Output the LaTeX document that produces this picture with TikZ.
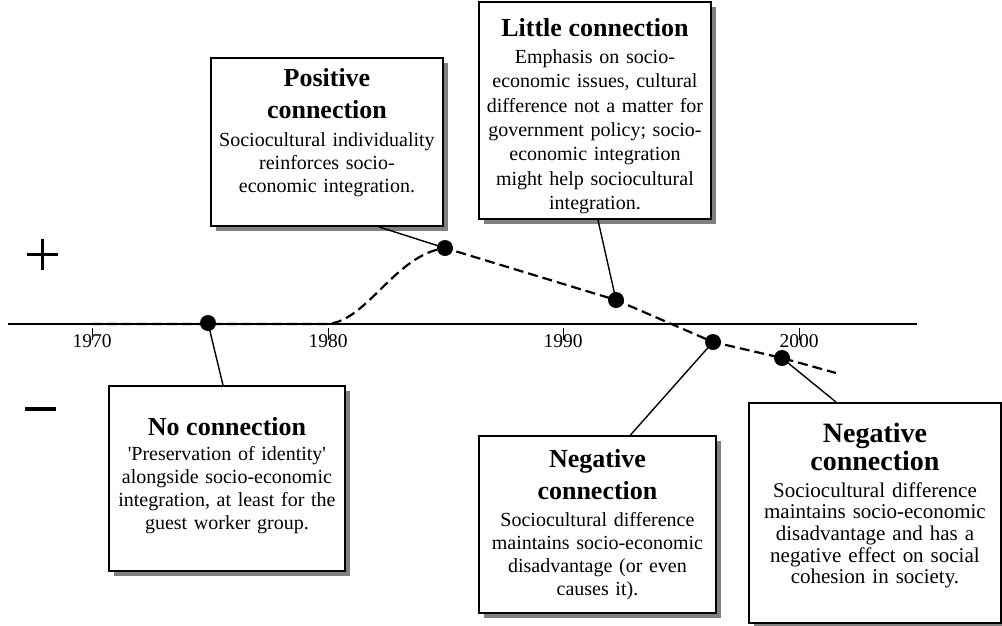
\documentclass[tikz,border=0pt]{standalone}
\usepackage{fontspec}
\newfontfamily\tnr{Liberation Serif}
\usetikzlibrary{shadows}
\begin{document}
\begin{tikzpicture}[x=1pt,y=-1pt,
  box/.style={draw, line width=1.9pt, fill=white, rectangle, inner sep=0pt, anchor=north west,
    drop shadow={shadow xshift=5pt, shadow yshift=-5pt, fill=black!50, opacity=1}},
  txt/.style={font=\tnr\fontsize{20}{23}\selectfont, align=center, text width=300pt, inner sep=0pt, anchor=north},
  yr/.style={font=\tnr\fontsize{19.5}{21}\selectfont, inner sep=0pt},
  dot/.style={circle, fill=black, minimum size=16pt, inner sep=0pt},
  conn/.style={line width=1.4pt},
  curvestyle/.style={line width=2.2pt, dash pattern=on 10pt off 5pt},
  tick/.style={line width=0.8pt}
]
\useasboundingbox (0,0) rectangle (1002,625);

% plus and minus
\draw[line width=3pt] (27,254) -- (58,254);
\draw[line width=3pt] (42,239) -- (42,270);
\draw[line width=4pt] (25,409) -- (56,409);

% axis
\coordinate (axL) at (8,324);
\coordinate (axR) at (917,324);
\draw[line width=1.6pt] (axL) -- (axR);
\foreach \x/\y in {92/1970, 328/1980, 563/1990, 799/2000}{
  \draw[tick] (\x,328) -- (\x,340);
  \node[yr] (y\y) at (\x,341) {\y};
}

% boxes
\node[box, minimum width=232pt, minimum height=168pt] (pos) at (210,57) {};
\node[txt] (post) at ([yshift=-11pt]pos.north) {%
  {\fontsize{26}{32}\selectfont\bfseries Positive\\connection\par}\vspace{5pt}%
  Sociocultural individuality\\reinforces socio-\\economic integration.};

\node[box, minimum width=232pt, minimum height=217pt] (lit) at (478,1) {};
\node[txt, font=\tnr\fontsize{20}{24.3}\selectfont] (litt) at ([yshift=-17pt]lit.north) {%
  {\fontsize{26}{32}\selectfont\bfseries Little connection\par}\vspace{3pt}%
  Emphasis on socio-\\economic issues, cultural\\difference not a matter for\\government policy; socio-\\economic integration\\might help sociocultural\\integration.};

\node[box, minimum width=236pt, minimum height=185pt] (no) at (108,385) {};
\node[txt] (not) at ([yshift=-32pt]no.north) {%
  {\fontsize{26}{32}\selectfont\bfseries No connection\par}\vspace{2pt}%
  'Preservation of identity'\\alongside socio-economic\\integration, at least for the\\guest worker group.};

\node[box, minimum width=237pt, minimum height=177pt] (neg) at (478,435) {};
\node[txt, font=\tnr\fontsize{20}{22.7}\selectfont] (negt) at ([yshift=-14pt]neg.north) {%
  {\fontsize{26}{32}\selectfont\bfseries Negative\\connection\par}\vspace{5pt}%
  Sociocultural difference\\maintains socio-economic\\disadvantage (or even\\causes it).};

\node[box, minimum width=252pt, minimum height=220pt] (neg2) at (748,402) {};
\node[txt, font=\tnr\fontsize{21}{21.6}\selectfont] (neg2t) at ([yshift=-21pt]neg2.north) {%
  {\fontsize{28}{28}\selectfont\bfseries Negative\\connection\par}\vspace{5pt}%
  Sociocultural difference\\maintains socio-economic\\disadvantage and has a\\negative effect on social\\cohesion in society.};

% curve points
\coordinate (c0) at (92,324);
\coordinate (c1) at (328,324);
\coordinate (p1) at (208,323);
\coordinate (p2) at (445,248);
\coordinate (p3) at (616,300);
\coordinate (p4) at (713,342);
\coordinate (p5) at (782,358);
\coordinate (cend) at (836,373);
\draw[curvestyle] (c0) -- (c1) .. controls (368,320) and (395,255) .. (p2) -- (p3) -- (p4) -- (p5) -- (cend);

% connectors
\draw[conn] ([xshift=52pt]pos.south) -- (p2);
\draw[conn] ([xshift=3pt]lit.south) -- (p3);
\draw[conn] ([xshift=-4pt]no.north) -- (p1);
\draw[conn] ([xshift=33pt]neg.north) -- (p4);
\draw[conn] ([xshift=-39pt]neg2.north) -- (p5);

% dots
\foreach \i in {1,...,5}{ \node[dot] (d\i) at (p\i) {}; }
\end{tikzpicture}
\end{document}
